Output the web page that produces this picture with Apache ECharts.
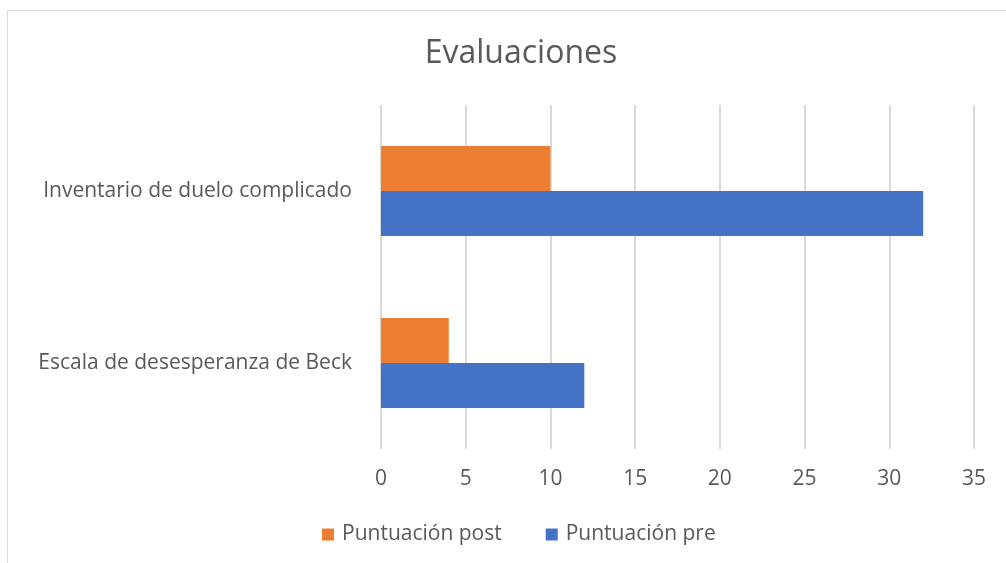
<!DOCTYPE html>
<html lang="es">
<head>
    <meta charset="UTF-8">
    <script src="https://cdn.jsdelivr.net/npm/echarts@6/dist/echarts.min.js"></script>
    <title>Evaluaciones</title>
    <style>
        html, body { margin: 0; padding: 0; background: #fff; }
        #frame {
            position: absolute; left: 7px; top: 10px;
            width: 1100px; height: 700px;
            border: 1px solid #d9d9d9;
        }
        #chart { position: absolute; left: 0; top: 0; width: 1006px; height: 563px; }
    </style>
</head>
<body>
<div id="frame"></div>
<div id="chart"></div>
<script>
// datos
var categories = ['Escala de desesperanza de Beck', 'Inventario de duelo complicado'];
var puntuacionPost = [4, 10];
var puntuacionPre = [12, 32];
var xTicks = { min: 0, max: 35, interval: 5 };

var fontFam = '"Open Sans", sans-serif';
var txtColor = '#595959';

var myChart = echarts.init(document.getElementById('chart'));
var option = {
    title: {
        text: 'Evaluaciones',
        left: 516, top: 33,
        textAlign: 'center',
        textStyle: { fontFamily: fontFam, fontSize: 32, fontWeight: 'normal', color: txtColor }
    },
    legend: {
        top: 519,
        left: 317,
        itemWidth: 12, itemHeight: 12, itemGap: 44,
        icon: 'rect',
        textStyle: { fontFamily: fontFam, fontSize: 21, color: txtColor, padding: [0, 0, 0, 3] },
        data: ['Puntuación post', 'Puntuación pre']
    },
    grid: { left: 381, right: 32, top: 105, bottom: 114, containLabel: false },
    xAxis: {
        type: 'value',
        min: xTicks.min, max: xTicks.max, interval: xTicks.interval,
        axisLine: { show: false },
        axisTick: { show: false },
        axisLabel: { fontFamily: fontFam, fontSize: 21, color: txtColor, margin: 20 },
        splitLine: { lineStyle: { color: '#d9d9d9', width: 2 } }
    },
    yAxis: {
        type: 'category',
        data: categories,
        axisLine: { show: false },
        axisTick: { show: false },
        axisLabel: { fontFamily: fontFam, fontSize: 21, color: txtColor, margin: 29 }
    },
    series: [
        {
            name: 'Puntuación post',
            type: 'bar',
            data: puntuacionPost,
            barWidth: 45,
            barGap: '0%',
            itemStyle: { color: '#ED7D31' }
        },
        {
            name: 'Puntuación pre',
            type: 'bar',
            data: puntuacionPre,
            barWidth: 45,
            barGap: '0%',
            itemStyle: { color: '#4472C4' }
        }
    ]
};
myChart.setOption(option);
</script>
</body>
</html>
